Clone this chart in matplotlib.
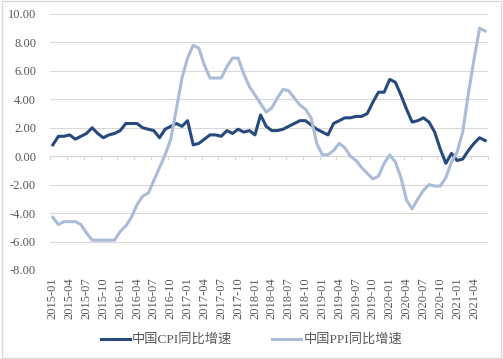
import matplotlib
matplotlib.use('Agg')
import matplotlib.pyplot as plt
from matplotlib.patches import Rectangle
import numpy as np

months = [f'{y}-{m:02d}' for y in range(2015, 2022) for m in range(1, 13)][:78]

cpi = [0.8, 1.4, 1.4, 1.5, 1.2, 1.4, 1.6, 2.0, 1.6, 1.3, 1.5, 1.6,
       1.8, 2.3, 2.3, 2.3, 2.0, 1.9, 1.8, 1.3, 1.9, 2.1, 2.3, 2.1,
       2.5, 0.8, 0.9, 1.2, 1.5, 1.5, 1.4, 1.8, 1.6, 1.9, 1.7, 1.8,
       1.5, 2.9, 2.1, 1.8, 1.8, 1.9, 2.1, 2.3, 2.5, 2.5, 2.2, 1.9,
       1.7, 1.5, 2.3, 2.5, 2.7, 2.7, 2.8, 2.8, 3.0, 3.8, 4.5, 4.5,
       5.4, 5.2, 4.3, 3.3, 2.4, 2.5, 2.7, 2.4, 1.7, 0.5, -0.5, 0.2,
       -0.3, -0.2, 0.4, 0.9, 1.3, 1.1]

ppi = [-4.3, -4.8, -4.6, -4.6, -4.6, -4.8, -5.4, -5.9, -5.9, -5.9, -5.9, -5.9,
       -5.3, -4.9, -4.3, -3.4, -2.8, -2.6, -1.7, -0.8, 0.1, 1.2, 3.3, 5.5,
       6.9, 7.8, 7.6, 6.4, 5.5, 5.5, 5.5, 6.3, 6.9, 6.9, 5.8, 4.9,
       4.3, 3.7, 3.1, 3.4, 4.1, 4.7, 4.6, 4.1, 3.6, 3.3, 2.7, 0.9,
       0.1, 0.1, 0.4, 0.9, 0.6, 0.0, -0.3, -0.8, -1.2, -1.6, -1.4, -0.5,
       0.1, -0.4, -1.5, -3.1, -3.7, -3.0, -2.4, -2.0, -2.1, -2.1, -1.5, -0.4,
       0.3, 1.7, 4.4, 6.8, 9.0, 8.8]

serif = ['Liberation Serif', 'Noto Sans CJK SC']
txt = '#595959'
grid = '#d9d9d9'

fig = plt.figure(figsize=(5.03, 3.59), dpi=100)
ax = fig.add_axes([50/503, 1 - 270/359, 438/503, 256/359])

x = np.arange(len(months))
ax.plot(x, cpi, color='#264a7d', lw=2.2, label='中国CPI同比增速')
ax.plot(x, ppi, color='#aabcd8', lw=2.2, label='中国PPI同比增速')

ax.set_xlim(-0.5, len(months) - 0.5)
ax.set_ylim(-8, 10)
yt = np.arange(-8, 10.1, 2)
ax.set_yticks(yt)
ax.set_yticklabels([f'{v:.2f}' for v in yt], family=serif, fontsize=9, color=txt)
ax.grid(axis='y', color=grid, lw=0.8)
ax.set_axisbelow(True)
for s in ['top', 'right', 'left']:
    ax.spines[s].set_visible(False)
ax.tick_params(axis='y', length=0, pad=10)

# category axis crosses at zero, with small tick marks between groups
ax.spines['bottom'].set_position(('data', 0))
ax.spines['bottom'].set_color(grid)
ax.spines['bottom'].set_zorder(0)
ax.set_xticks(np.arange(-0.5, len(months), 3))
ax.tick_params(axis='x', length=3, color=grid, labelbottom=False)

lab = ax.secondary_xaxis('bottom')
lab.set_xticks(x[::3])
lab.set_xticklabels(months[::3], rotation=90, family=serif, fontsize=9, color=txt)
lab.tick_params(length=0, pad=5)
lab.spines['bottom'].set_visible(False)

leg = fig.legend(loc='center', bbox_to_anchor=(0.5, 1 - 340/359), ncol=2, frameon=False,
                 prop={'family': serif, 'size': 9.5}, handlelength=2.2, columnspacing=3.0,
                 handletextpad=0.2)
for t in leg.get_texts():
    t.set_color(txt)

fig.patches.append(Rectangle((0.004, 0.004), 0.992, 0.992, transform=fig.transFigure,
                             fill=False, edgecolor=grid, lw=1))

fig.savefig('out.png', dpi=100)
